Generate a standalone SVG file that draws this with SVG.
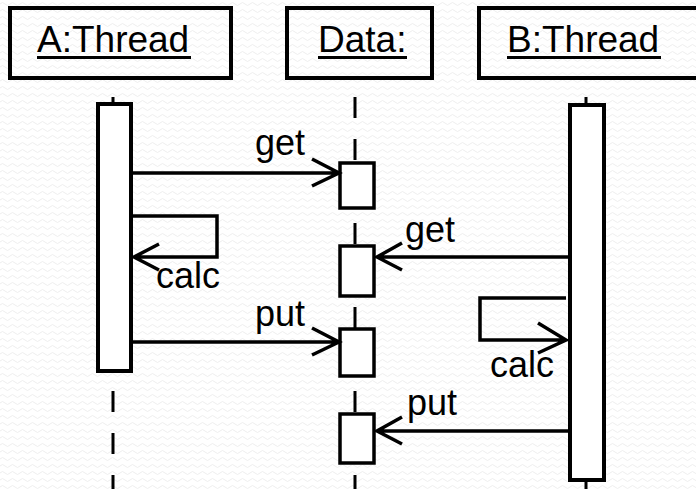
<svg xmlns="http://www.w3.org/2000/svg" width="696" height="489" viewBox="0 0 696 489">
<defs>
<pattern id="bg" width="10" height="7" patternUnits="userSpaceOnUse">
<path d="M0 4 Q2.5 1 5 4 T10 4" fill="none" stroke="#eeeeee" stroke-width="1"/>
</pattern>
<style>
.head{fill:none;stroke:#000;stroke-width:4}
.lbl{font-family:"Liberation Sans",Arial,sans-serif;font-size:37px;fill:#000}
.msg{font-family:"Liberation Sans",Arial,sans-serif;font-size:36px;fill:#000}
.ul{stroke:#000;stroke-width:3}
.life{stroke:#000;stroke-width:3;stroke-dasharray:21 21}
.act{fill:#fff;stroke:#000;stroke-width:4}
.box{fill:#fff;stroke:#000;stroke-width:3.5}
.ln{fill:none;stroke:#000;stroke-width:3.5}
</style>
</defs>
<rect x="0" y="0" width="696" height="489" fill="#fff"/>
<rect x="0" y="0" width="696" height="489" fill="url(#bg)"/>

<g id="lifelines">
<line class="life" x1="113" y1="97" x2="113" y2="489"/>
<line class="life" x1="355" y1="97" x2="355" y2="489"/>
<line class="life" x1="586" y1="97" x2="586" y2="489"/>
</g>

<g id="A">
<rect class="head" x="10" y="8" width="221" height="70"/>
<text class="lbl" x="37" y="52">A:Thread</text>
<line class="ul" x1="37" y1="57.5" x2="191" y2="57.5"/>
<rect class="act" x="98" y="104" width="33" height="267"/>
</g>

<g id="Data">
<rect class="head" x="287" y="8" width="145" height="70"/>
<text class="lbl" x="318" y="52">Data:</text>
<line class="ul" x1="318" y1="57.5" x2="407" y2="57.5"/>
<rect class="box" x="340" y="163" width="34" height="45"/>
<rect class="box" x="340" y="246" width="34" height="50"/>
<rect class="box" x="340" y="329" width="34" height="47"/>
<rect class="box" x="340" y="414" width="34" height="49"/>
</g>

<g id="B">
<rect class="head" x="479" y="8" width="230" height="70"/>
<text class="lbl" x="507" y="52">B:Thread</text>
<line class="ul" x1="507" y1="57.5" x2="661" y2="57.5"/>
<rect class="act" x="570" y="105" width="34" height="375"/>
</g>

<g id="connectors">
<path class="ln" d="M133 173 H339 M312 159 L339 173 L312 186"/>
<path class="ln" d="M133 216 H217 V257 H134 M159 244 L134 257 L159 270"/>
<path class="ln" d="M133 342 H339 M312 328 L339 342 L312 355"/>
<path class="ln" d="M570 257 H377 M402 243 L377 257 L402 270"/>
<path class="ln" d="M566 298 H480 V340 H566 M538 323 L566 340 L538 353"/>
<path class="ln" d="M570 431 H377 M402 417 L377 431 L402 444"/>
</g>

<g id="labels">
<text class="msg" x="255" y="155">get</text>
<text class="msg" x="156" y="288">calc</text>
<text class="msg" x="255" y="326">put</text>
<text class="msg" x="405" y="242">get</text>
<text class="msg" x="490" y="377">calc</text>
<text class="msg" x="407" y="415">put</text>
</g>
</svg>
